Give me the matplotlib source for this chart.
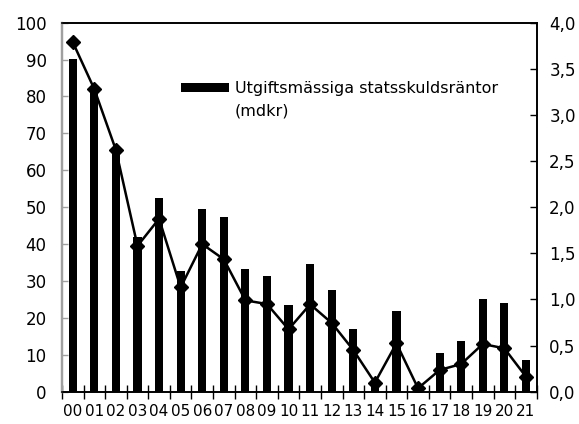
import matplotlib
matplotlib.use("Agg")
import matplotlib.pyplot as plt
import matplotlib.ticker as ticker
from matplotlib import font_manager
import numpy as np

# Look for a condensed sans font (the original uses a narrow typeface)
narrow = None
for f in font_manager.fontManager.ttflist:
    fn = f.fname.lower()
    if ("narrow" in fn or "condensed" in fn) and "bold" not in fn \
            and "oblique" not in fn and "italic" not in fn and "mono" not in fn \
            and "serif" not in fn.replace("sans", ""):
        narrow = f.fname
        break

if narrow:
    font_manager.fontManager.addfont(narrow)
    fam = font_manager.FontProperties(fname=narrow).get_name()
    plt.rcParams["font.family"] = [fam, "DejaVu Sans"]
    plt.rcParams["font.stretch"] = font_manager.FontProperties(fname=narrow).get_stretch()
    fsize = 12
else:
    plt.rcParams["font.family"] = ["Roboto", "DejaVu Sans"]
    fsize = 11.5
plt.rcParams["font.size"] = fsize

years = ["00", "01", "02", "03", "04", "05", "06", "07", "08", "09", "10",
         "11", "12", "13", "14", "15", "16", "17", "18", "19", "20", "21"]
# Utgiftsmässiga statsskuldsräntor (mdkr), left axis
interest = [90.2, 82.5, 66.0, 41.8, 52.5, 32.7, 49.4, 47.3, 33.2, 31.3, 23.4,
            34.7, 27.5, 17.0, 1.5, 22.0, 0.5, 10.6, 13.7, 25.1, 24.1, 8.6]
# right axis series (diamonds)
share = [3.79, 3.28, 2.62, 1.58, 1.875, 1.13, 1.60, 1.435, 0.99, 0.95, 0.676,
         0.947, 0.745, 0.452, 0.098, 0.524, 0.037, 0.235, 0.30, 0.517, 0.47, 0.163]

fig = plt.figure(figsize=(5.79, 4.24), dpi=100)
ax = fig.add_axes([0.107, 0.0762, 0.82, 0.8703])
ax2 = ax.twinx()

x = np.arange(len(years))
ax.bar(x, interest, width=0.38, color="black", zorder=2,
       label="Utgiftsmässiga statsskuldsräntor")
ax2.plot(x, share, color="black", linewidth=1.8, marker="D", markersize=7,
         zorder=3)

ax.set_xlim(-0.5, len(years) - 0.5)
ax.set_ylim(0, 100)
ax2.set_ylim(0, 4)

ax.set_yticks(range(0, 101, 10))
ax2.set_yticks(np.arange(0, 4.01, 0.5))
ax2.yaxis.set_major_formatter(
    ticker.FuncFormatter(lambda v, p: f"{v:.1f}".replace(".", ",")))

ax.set_xticks(x)
ax.set_xticklabels(years, fontsize=fsize - 1)
ax.set_xticks(np.arange(-0.5, len(years), 1), minor=True)
ax.tick_params(axis="x", which="major", length=0, pad=9)
ax.tick_params(axis="x", which="minor", direction="inout", length=10,
               width=1, color="black")
ax.tick_params(axis="y", direction="in", length=4, width=1,
               color="#a0a0a0", pad=11)
ax2.tick_params(axis="y", direction="in", length=5, width=1,
                color="black", pad=9)

grey = "#a0a0a0"
for a in (ax, ax2):
    for s in a.spines.values():
        s.set_color("black")
        s.set_linewidth(1.2)
    a.spines["left"].set_color(grey)
    a.spines["left"].set_linewidth(1.6)

ax.set_zorder(ax2.get_zorder() - 1)
ax.patch.set_visible(False)

leg = ax2.legend(*ax.get_legend_handles_labels(), loc="upper left",
                 bbox_to_anchor=(0.25, 0.842), frameon=False,
                 handlelength=3.05, handleheight=0.5, handletextpad=0.36,
                 borderaxespad=0, borderpad=0, fontsize=fsize - 0.5)

# second line of the legend label, under the first one
fig.canvas.draw()
bb = leg.get_texts()[0].get_window_extent()
fig.text(bb.x0, bb.y0 - 23, "(mdkr)", ha="left", va="bottom",
         transform=None, fontsize=fsize - 0.5)

fig.savefig("out.png", dpi=100)
